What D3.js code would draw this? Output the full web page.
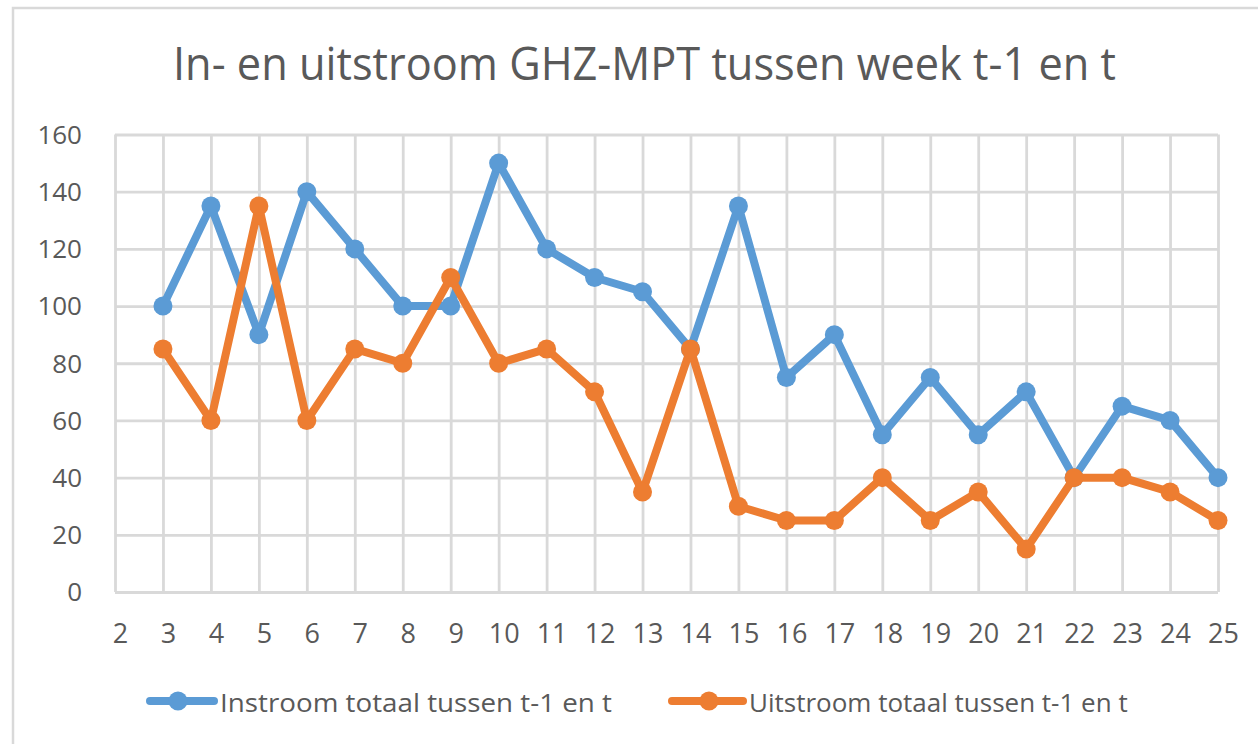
<!DOCTYPE html>
<html>
<head>
<meta charset="utf-8">
<script src="https://cdn.jsdelivr.net/npm/d3@7"></script>
<style>
  html, body { margin: 0; padding: 0; background: #ffffff; }
  svg { display: block; }
  text { font-family: "Open Sans", "Noto Sans", sans-serif; fill: #595959; }
</style>
</head>
<body>
<svg id="chart" width="1258" height="744"></svg>
<script>
const titleText = "In- en uitstroom GHZ-MPT tussen week t-1 en t";
const weeks = [2,3,4,5,6,7,8,9,10,11,12,13,14,15,16,17,18,19,20,21,22,23,24,25];
const dataWeeks = [3,4,5,6,7,8,9,10,11,12,13,14,15,16,17,18,19,20,21,22,23,24,25];
const instroom = [100,135,90,140,120,100,100,150,120,110,105,85,135,75,90,55,75,55,70,40,65,60,40];
const uitstroom = [85,60,135,60,85,80,110,80,85,70,35,85,30,25,25,40,25,35,15,40,40,35,25];
const yTicks = [0,20,40,60,80,100,120,140,160];
const seriesNames = ["Instroom totaal tussen t-1 en t", "Uitstroom totaal tussen t-1 en t"];
const seriesColors = ["#5B9BD5", "#ED7D31"];

(function () {
const svg = d3.select("#chart");
const W = 1258, H = 744;
const pLeft = 115, pRight = 1218, pTop = 134.5, pBottom = 592;

// outer frame (top and left edges visible)
svg.append("rect").attr("x", 13).attr("y", 8).attr("width", W + 20).attr("height", H + 20)
  .attr("fill", "#ffffff").attr("stroke", "#d9d9d9").attr("stroke-width", 2.5);

const x = d3.scalePoint().domain(weeks).range([pLeft, pRight]).padding(0);
const y = d3.scaleLinear().domain([0, 160]).range([pBottom, pTop]);

// horizontal gridlines + y labels
const yAxis = svg.append("g").attr("transform", `translate(${pLeft},0)`)
  .call(d3.axisLeft(y).tickValues(yTicks).tickSize(-(pRight - pLeft)).tickPadding(33));
yAxis.select(".domain").remove();
yAxis.selectAll(".tick line").attr("stroke", "#d9d9d9").attr("stroke-width", 2.8);
yAxis.selectAll(".tick text").attr("font-size", 26).attr("fill", "#555555")
  .attr("font-family", '"Open Sans", sans-serif').attr("dy", "0.34em");

// vertical gridlines + x labels
const xAxis = svg.append("g").attr("transform", `translate(0,${pBottom})`)
  .call(d3.axisBottom(x).tickSize(-(pBottom - pTop)).tickPadding(0));
xAxis.select(".domain").remove();
xAxis.selectAll(".tick line").attr("stroke", "#d9d9d9").attr("stroke-width", 2.8);
xAxis.selectAll(".tick text").attr("font-size", 27).attr("fill", "#555555")
  .attr("font-family", '"Open Sans", sans-serif').attr("y", 51).attr("dy", 0).attr("dx", 5);

// series
const allSeries = [instroom, uitstroom];
const line = d3.line().x((d, i) => x(dataWeeks[i])).y(d => y(d));
allSeries.forEach((vals, si) => {
  const g = svg.append("g");
  g.append("path").datum(vals).attr("d", line).attr("fill", "none")
    .attr("stroke", seriesColors[si]).attr("stroke-width", 8)
    .attr("stroke-linejoin", "round").attr("stroke-linecap", "round");
  g.selectAll("circle").data(vals).enter().append("circle")
    .attr("cx", (d, i) => x(dataWeeks[i])).attr("cy", d => y(d)).attr("r", 9.5)
    .attr("fill", seriesColors[si]);
});

// title
const title = svg.append("text").attr("x", 173).attr("y", 80)
  .attr("font-size", 46).attr("font-weight", 400).attr("fill", "#555555").text(titleText);
const tw = title.node().getComputedTextLength();
if (Math.abs(tw - 943) > 4) title.attr("textLength", 943).attr("lengthAdjust", "spacingAndGlyphs");

// legend
const legendItems = [
  { x1: 150, x2: 214, cx: 178, tx: 220, tw: 392 },
  { x1: 672, x2: 743, cx: 709, tx: 749, tw: 376 }
];
legendItems.forEach((li, i) => {
  const g = svg.append("g");
  g.append("line").attr("x1", li.x1).attr("x2", li.x2).attr("y1", 701).attr("y2", 701)
    .attr("stroke", seriesColors[i]).attr("stroke-width", 8).attr("stroke-linecap", "round");
  g.append("circle").attr("cx", li.cx).attr("cy", 701).attr("r", 9.5).attr("fill", seriesColors[i]);
  const t = g.append("text").attr("x", li.tx).attr("y", 712).attr("font-size", 26)
    .attr("fill", "#555555").text(seriesNames[i]);
  const w = t.node().getComputedTextLength();
  if (Math.abs(w - li.tw) > 4) t.attr("textLength", li.tw).attr("lengthAdjust", "spacingAndGlyphs");
});
})();
</script>
</body>
</html>
